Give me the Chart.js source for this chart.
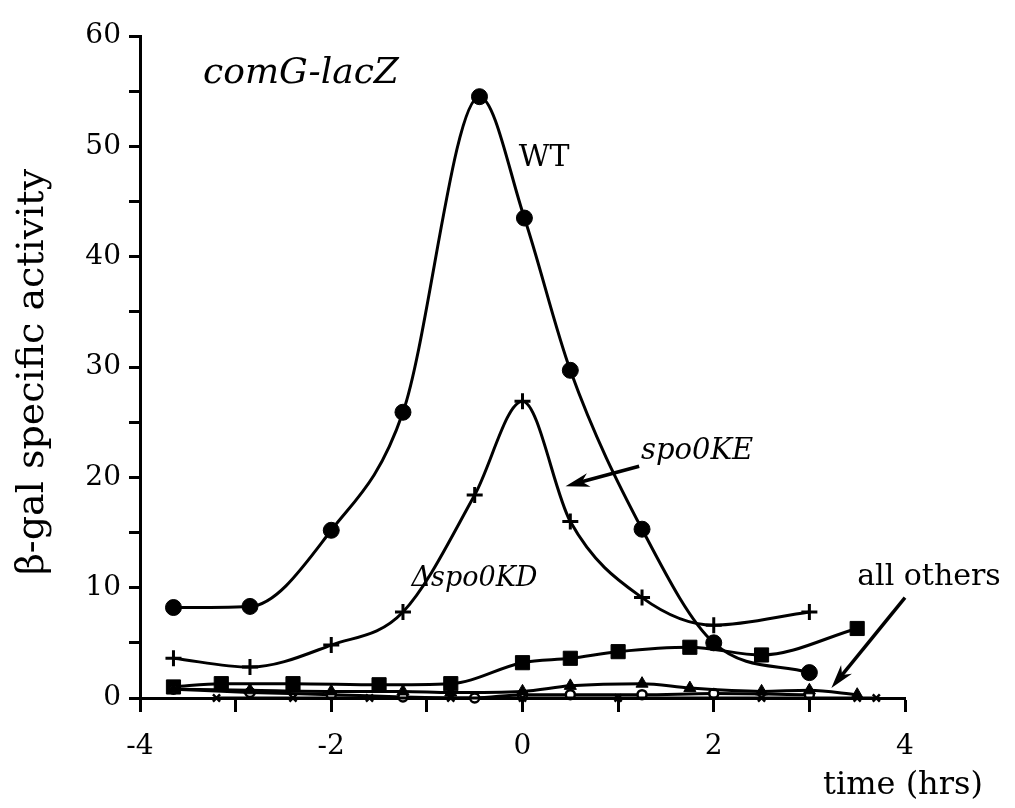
<!DOCTYPE html>
<html>
<head>
<meta charset="utf-8">
<script src="https://cdn.jsdelivr.net/npm/chart.js@4.4.0/dist/chart.umd.min.js"></script>
<style>
  body { margin: 0; background: #fff; }
  #wrap { width: 1015px; height: 808px; position: relative; }
</style>
</head>
<body>
<div id="wrap"><canvas id="myChart"></canvas></div>
<script>
// values (time in hrs, beta-gal specific activity)
const wtTime = [-3.65, -2.85, -2, -1.25, -0.45, 0.02, 0.5, 1.25, 2, 3];
const wtActivity = [8.2, 8.3, 15.2, 25.9, 54.5, 43.5, 29.7, 15.3, 5.0, 2.3];

const keTime = [-3.65, -2.85, -2, -1.25, -0.5, 0, 0.5, 1.25, 2, 3];
const keActivity = [3.6, 2.8, 4.8, 7.8, 18.4, 26.9, 16.0, 9.1, 6.6, 7.8];

const kdTime = [-3.65, -3.15, -2.4, -1.5, -0.75, 0, 0.5, 1, 1.75, 2.5, 3.5];
const kdActivity = [1.0, 1.3, 1.3, 1.2, 1.3, 3.2, 3.6, 4.2, 4.6, 3.9, 6.3];

// "all others" - everything stuck near zero
const othCircTime = [-3.65, -2.85, -2, -1.25, -0.5, 0, 0.5, 1.25, 2, 3];
const othCircActivity = [0.8, 0.5, 0.3, 0.1, 0.0, 0.3, 0.3, 0.3, 0.4, 0.3];

const othTriTime = [-3.65, -2.85, -2, -1.25, -0.75, 0, 0.5, 1.25, 1.75, 2.5, 3, 3.5];
const othTriActivity = [0.8, 0.7, 0.6, 0.6, 0.5, 0.6, 1.1, 1.3, 0.9, 0.6, 0.7, 0.3];

const othXTime = [-3.2, -2.4, -1.6, -0.75, 0, 1, 2.5, 3.5, 3.7];
const othXActivity = [0.0, 0.0, 0.0, 0.0, 0.0, 0.0, 0.0, 0.0, 0.0];

const xTicks = [-4, -2, 0, 2, 4];
const yTicks = [0, 10, 20, 30, 40, 50, 60];

const serif = "'DejaVu Serif', 'Liberation Serif', serif";

function toPoints(xs, ys) {
  return xs.map((x, i) => ({ x: x, y: ys[i] }));
}

function makeSet(label, xs, ys, style, radius, fill, bw) {
  return {
    label: label,
    data: toPoints(xs, ys),
    borderColor: '#000',
    backgroundColor: fill,
    pointBackgroundColor: fill,
    pointBorderColor: '#000',
    pointStyle: style,
    pointRadius: radius,
    pointBorderWidth: bw,
    borderWidth: 3,
    tension: 0.45,
    cubicInterpolationMode: 'monotone',
    clip: 14
  };
}

// draws the free text and the two arrows
const notes = {
  id: 'notes',
  afterDraw(chart) {
    const c = chart.ctx;
    const xs = chart.scales.x;
    const ys = chart.scales.y;
    const px = (v) => xs.getPixelForValue(v);
    const py = (v) => ys.getPixelForValue(v);
    c.save();
    c.fillStyle = '#000';
    c.strokeStyle = '#000';
    c.textBaseline = 'middle';
    c.textAlign = 'left';

    c.font = 'italic 36px ' + serif;
    c.fillText('comG-lacZ', px(-3.34), py(56.6));
    c.font = '30px ' + serif;
    c.fillText('WT', px(-0.04), py(48.9));
    c.font = 'italic 29px ' + serif;
    c.fillText('spo0KE', px(1.24), py(22.3));
    c.font = 'italic 27px ' + serif;
    c.fillText('\u0394spo0KD', px(-1.16), py(10.8));
    c.font = '30px ' + serif;
    c.textBaseline = 'alphabetic';
    c.fillText('all others', px(3.5), py(10.2));
    c.textBaseline = 'middle';

    arrow(c, px(1.22), py(21.0), px(0.45), py(19.2));
    arrow(c, px(4.0), py(9.1), px(3.23), py(0.9));

    // axis titles
    c.font = '32px ' + serif;
    c.textAlign = 'center';
    c.fillText('time (hrs)', 903, 786);
    c.font = '38px ' + serif;
    c.translate(33, 372);
    c.rotate(-Math.PI / 2);
    c.fillText('\u03b2-gal specific activity', 0, 0);
    c.restore();
  }
};

function arrow(c, x1, y1, x2, y2) {
  const a = Math.atan2(y2 - y1, x2 - x1);
  c.lineWidth = 3.5;
  c.beginPath();
  c.moveTo(x1, y1);
  c.lineTo(x2 - 10 * Math.cos(a), y2 - 10 * Math.sin(a));
  c.stroke();
  c.beginPath();
  c.moveTo(x2, y2);
  c.lineTo(x2 - 24 * Math.cos(a) + 7 * Math.sin(a), y2 - 24 * Math.sin(a) - 7 * Math.cos(a));
  c.lineTo(x2 - 17 * Math.cos(a), y2 - 17 * Math.sin(a));
  c.lineTo(x2 - 24 * Math.cos(a) - 7 * Math.sin(a), y2 - 24 * Math.sin(a) + 7 * Math.cos(a));
  c.closePath();
  c.fill();
}

function initChart(canvas) {
  const data = {
    datasets: [
      makeSet('others x', othXTime, othXActivity, 'crossRot', 5, '#000', 2.5),
      makeSet('others triangle', othTriTime, othTriActivity, 'triangle', 7, '#000', 1),
      makeSet('others circle', othCircTime, othCircActivity, 'circle', 4.5, '#fff', 2.5),
      makeSet('\u0394spo0KD', kdTime, kdActivity, 'rect', 10, '#000', 1),
      makeSet('spo0KE', keTime, keActivity, 'cross', 8, '#000', 3),
      makeSet('WT', wtTime, wtActivity, 'circle', 8, '#000', 1)
    ]
  };

  const config = {
    type: 'line',
    data: data,
    plugins: [notes],
    options: {
      responsive: true,
      maintainAspectRatio: false,
      animation: false,
      layout: { padding: { top: 36, right: 110, left: 0, bottom: 0 } },
      plugins: { legend: { display: false }, tooltip: { enabled: false } },
      scales: {
        x: {
          type: 'linear',
          min: -4,
          max: 4,
          afterFit: (s) => { s.height = 110; },
          afterBuildTicks: (s) => { s.ticks = [-4, -3, -2, -1, 0, 1, 2, 3, 4].map((v) => ({ value: v })); },
          border: { display: true, color: '#000', width: 3 },
          grid: { drawOnChartArea: false, drawTicks: true, tickLength: 14, tickWidth: 3, tickColor: '#000' },
          ticks: {
            color: '#000',
            padding: 18,
            maxRotation: 0,
            font: { family: serif, size: 28 },
            callback: (v) => (xTicks.includes(v) ? String(v) : '')
          }
        },
        y: {
          type: 'linear',
          min: 0,
          max: 60,
          afterFit: (s) => { s.width = 140; },
          afterBuildTicks: (s) => {
            const t = [];
            for (let v = 0; v <= 60; v += 5) t.push({ value: v });
            s.ticks = t;
          },
          border: { display: true, color: '#000', width: 3 },
          grid: { drawOnChartArea: false, drawTicks: true, tickLength: 11, tickWidth: 3, tickColor: '#000' },
          ticks: {
            color: '#000',
            padding: 8,
            font: { family: serif, size: 28 },
            callback: (v) => (yTicks.includes(v) ? String(v) : '')
          }
        }
      }
    }
  };

  return new Chart(canvas, config);
}

document.addEventListener('DOMContentLoaded', () => {
  initChart(document.querySelector('#myChart'));
});
</script>
</body>
</html>
